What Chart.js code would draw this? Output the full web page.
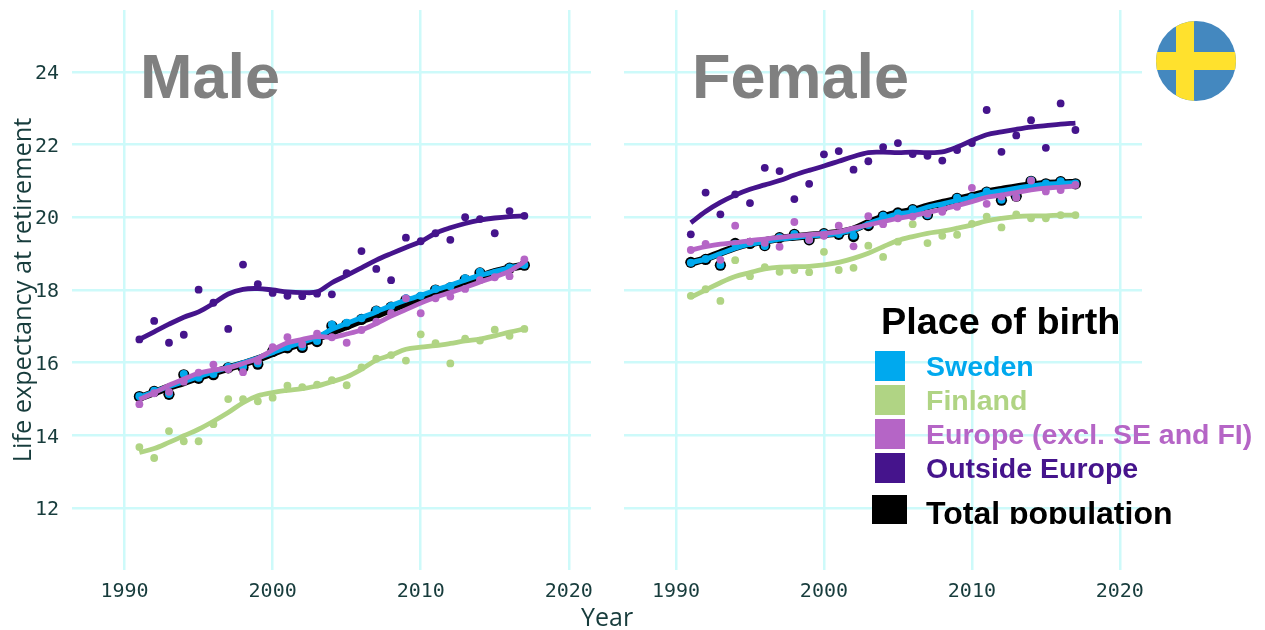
<!DOCTYPE html>
<html>
<head>
<meta charset="utf-8">
<script src="https://cdn.jsdelivr.net/npm/chart.js@4"></script>
<style>
  html, body { margin: 0; padding: 0; background: #fff; }
  #page { position: relative; width: 1265px; height: 630px; overflow: hidden; }
  canvas { position: absolute; top: 0; }
  #male { left: 0; }
  #female { left: 605px; }
  .txt { position: absolute; font-family: "Liberation Sans", sans-serif; font-weight: bold; line-height: 1; white-space: nowrap; }
  .panel { font-size: 63px; color: #808080; top: 45px; }
  .swatch { position: absolute; }
  #yearLabel { position: absolute; left: 581px; top: 603px; font: 25px "Open Sans", sans-serif; color: #173c3c; line-height: 1.1; }
  #flag { position: absolute; left: 1156px; top: 21px; width: 80px; height: 80px; border-radius: 50%; overflow: hidden; background: #4488bf; }
  #flag div { position: absolute; background: #ffe12d; }
  #legendClip { position: absolute; left: 860px; top: 290px; width: 405px; height: 234px; overflow: hidden; }
</style>
</head>
<body>
<div id="page">
  <canvas id="male" width="605" height="630"></canvas>
  <canvas id="female" width="660" height="630"></canvas>
  <div class="txt panel" style="left:140px">Male</div>
  <div class="txt panel" style="left:692px">Female</div>
  <div id="yearLabel">Year</div>
  <div id="flag">
    <div style="left:20px;top:0;width:18px;height:80px"></div>
    <div style="left:0;top:31px;width:80px;height:18px"></div>
  </div>
  <div id="legendClip"></div>
</div>
<script>
const years = [1991, 1992, 1993, 1994, 1995, 1996, 1997, 1998, 1999, 2000, 2001, 2002, 2003, 2004, 2005, 2006, 2007, 2008, 2009, 2010, 2011, 2012, 2013, 2014, 2015, 2016, 2017];
const xTicks = [1990, 2000, 2010, 2020];
const yTicks = [12, 14, 16, 18, 20, 22, 24];

// male: yearly points and smoothed lines
const maleSwedenPts = [15.08, 15.23, 15.14, 15.69, 15.59, 15.69, 15.89, 15.89, 15.98, 16.33, 16.43, 16.44, 16.60, 17.05, 17.10, 17.22, 17.45, 17.56, 17.77, 17.84, 18.03, 18.10, 18.32, 18.50, 18.46, 18.62, 18.69];
const maleSwedenLine = [15.05, 15.20, 15.35, 15.48, 15.62, 15.75, 15.87, 16.00, 16.13, 16.28, 16.43, 16.56, 16.70, 16.92, 17.08, 17.24, 17.40, 17.57, 17.72, 17.85, 18.00, 18.13, 18.27, 18.40, 18.51, 18.61, 18.70];
const maleTotalPts = [15.07, 15.21, 15.13, 15.67, 15.57, 15.67, 15.86, 15.87, 15.96, 16.31, 16.41, 16.42, 16.58, 17.01, 17.05, 17.19, 17.42, 17.53, 17.72, 17.79, 18.00, 18.06, 18.28, 18.47, 18.44, 18.60, 18.68];
const maleTotalLine = [15.03, 15.18, 15.33, 15.46, 15.60, 15.73, 15.85, 15.97, 16.10, 16.26, 16.41, 16.54, 16.67, 16.84, 17.00, 17.16, 17.30, 17.47, 17.62, 17.76, 17.93, 18.08, 18.22, 18.36, 18.50, 18.60, 18.68];
const maleFinlandPts = [13.68, 13.38, 14.12, 13.84, 13.84, 14.31, 15.00, 15.00, 14.94, 15.04, 15.37, 15.33, 15.40, 15.52, 15.38, 15.87, 16.11, 16.21, 16.06, 16.78, 16.54, 15.98, 16.66, 16.61, 16.91, 16.74, 16.93];
const maleFinlandLine = [13.53, 13.64, 13.81, 13.99, 14.17, 14.39, 14.63, 14.90, 15.09, 15.18, 15.24, 15.29, 15.36, 15.48, 15.61, 15.82, 16.07, 16.21, 16.37, 16.43, 16.47, 16.53, 16.60, 16.65, 16.74, 16.84, 16.93];
const maleEuropePts = [14.86, 15.16, 15.20, 15.48, 15.73, 15.95, 15.82, 15.74, 16.05, 16.43, 16.70, 16.51, 16.80, 16.70, 16.55, 16.90, 17.13, 17.36, 17.77, 17.36, 17.77, 17.82, 18.03, 18.27, 18.35, 18.38, 18.84];
const maleEuropeLine = [14.99, 15.17, 15.38, 15.55, 15.71, 15.80, 15.86, 15.98, 16.12, 16.35, 16.55, 16.64, 16.72, 16.70, 16.79, 16.90, 17.08, 17.28, 17.46, 17.64, 17.80, 17.93, 18.07, 18.22, 18.36, 18.52, 18.78];
const maleOutsidePts = [16.64, 17.15, 16.55, 16.77, 18.01, 17.65, 16.93, 18.70, 18.16, 17.92, 17.84, 17.83, 17.90, 17.88, 18.46, 19.07, 18.58, 18.27, 19.44, 19.34, 19.56, 19.38, 20.00, 19.95, 19.56, 20.17, 20.04];
const maleOutsideLine = [16.64, 16.85, 17.06, 17.25, 17.40, 17.63, 17.89, 18.02, 18.04, 18.00, 17.95, 17.93, 17.95, 18.20, 18.40, 18.61, 18.82, 19.00, 19.17, 19.33, 19.56, 19.71, 19.83, 19.92, 19.98, 20.02, 20.04];

// female
const femaleSwedenPts = [18.75, 18.85, 18.69, 19.27, 19.29, 19.21, 19.45, 19.54, 19.38, 19.56, 19.54, 19.49, 19.79, 20.04, 20.11, 20.22, 20.06, 20.29, 20.54, 20.55, 20.71, 20.48, 20.57, 21.01, 20.93, 20.99, 20.93];
const femaleSwedenLine = [18.75, 18.85, 19.00, 19.15, 19.26, 19.33, 19.40, 19.44, 19.49, 19.51, 19.56, 19.65, 19.83, 19.97, 20.09, 20.15, 20.28, 20.37, 20.46, 20.55, 20.66, 20.73, 20.80, 20.86, 20.91, 20.93, 20.95];
const femaleTotalPts = [18.76, 18.84, 18.68, 19.28, 19.28, 19.22, 19.44, 19.53, 19.38, 19.55, 19.53, 19.47, 19.77, 20.03, 20.12, 20.21, 20.07, 20.27, 20.52, 20.54, 20.69, 20.47, 20.58, 20.99, 20.92, 20.98, 20.92];
const femaleTotalLine = [18.74, 18.86, 19.02, 19.17, 19.28, 19.35, 19.42, 19.46, 19.50, 19.53, 19.58, 19.67, 19.85, 20.00, 20.11, 20.18, 20.30, 20.40, 20.49, 20.58, 20.69, 20.76, 20.83, 20.88, 20.92, 20.94, 20.95];
const femaleFinlandPts = [17.84, 18.02, 17.70, 18.82, 18.38, 18.63, 18.50, 18.55, 18.49, 19.05, 18.55, 18.61, 19.22, 18.91, 19.33, 19.81, 19.29, 19.49, 19.52, 19.82, 20.02, 19.72, 20.08, 19.97, 19.97, 20.06, 20.06];
const femaleFinlandLine = [17.80, 18.00, 18.20, 18.37, 18.48, 18.58, 18.63, 18.64, 18.65, 18.69, 18.76, 18.87, 19.01, 19.19, 19.36, 19.47, 19.56, 19.62, 19.70, 19.79, 19.90, 19.97, 20.02, 20.04, 20.04, 20.06, 20.06];
const femaleEuropePts = [19.10, 19.27, 18.83, 19.77, 19.33, 19.30, 19.19, 19.87, 19.38, 19.49, 19.77, 19.20, 20.03, 19.81, 19.97, 20.02, 20.10, 20.15, 20.29, 20.81, 20.37, 20.57, 20.54, 21.01, 20.71, 20.75, 20.89];
const femaleEuropeLine = [19.10, 19.19, 19.26, 19.30, 19.36, 19.40, 19.45, 19.49, 19.52, 19.56, 19.60, 19.70, 19.79, 19.88, 19.97, 20.04, 20.13, 20.22, 20.32, 20.43, 20.55, 20.61, 20.68, 20.75, 20.80, 20.83, 20.86];
const femaleOutsidePts = [19.53, 20.68, 20.08, 20.63, 20.39, 21.36, 21.27, 20.50, 20.92, 21.73, 21.82, 21.31, 21.54, 21.93, 22.04, 21.74, 21.69, 21.56, 21.85, 22.04, 22.95, 21.80, 22.25, 22.67, 21.91, 23.13, 22.40];
const femaleOutsideLine = [19.85, 20.16, 20.41, 20.61, 20.77, 20.89, 21.01, 21.16, 21.29, 21.41, 21.54, 21.67, 21.78, 21.79, 21.78, 21.79, 21.78, 21.80, 21.93, 22.11, 22.27, 22.35, 22.42, 22.48, 22.52, 22.56, 22.59];

const BLUE = '#00a9ee', GREEN = '#b0d484', PINK = '#b565c6', NAVY = '#45148c';
const GRID = '#cdfafa', TICK = '#173c3c';
const tickFont = { family: '"DejaVu Sans Mono", monospace', size: 20 };

function pairs(vals) {
  return vals.map((v, i) => ({ x: years[i], y: v }));
}
function pts(vals, color, r) {
  return { data: pairs(vals), showLine: false, pointRadius: r, pointBackgroundColor: color, pointBorderWidth: 0 };
}
function line(vals, color, w) {
  return { data: pairs(vals), borderColor: color, borderWidth: w, pointRadius: 0, tension: 0.35, borderCapStyle: 'butt', fill: false };
}

function makeChart(id, s, isMale) {
  // painted bottom to top, chart.js paints index 0 last
  const layers = [
    pts(s.totalPts, '#000', 5.6), line(s.totalLine, '#000', 7.5),
    pts(s.swedenPts, BLUE, 4), line(s.swedenLine, BLUE, 5),
    pts(s.finlandPts, GREEN, 3.9), line(s.finlandLine, GREEN, 4.8),
    pts(s.europePts, PINK, 3.9), line(s.europeLine, PINK, 4.8),
    pts(s.outsidePts, NAVY, 3.9), line(s.outsideLine, NAVY, 4.8),
  ].reverse();
  new Chart(document.getElementById(id), {
    type: 'line',
    data: { datasets: layers },
    options: {
      responsive: false,
      animation: false,
      layout: { padding: { top: 10, left: isMale ? 0 : 18.5, right: isMale ? 14 : 123, bottom: 0 } },
      plugins: { legend: { display: false }, tooltip: { enabled: false } },
      scales: {
        x: {
          type: 'linear',
          min: 1986.45,
          max: 2021.5,
          afterBuildTicks: (sc) => { sc.ticks = xTicks.map((v) => ({ value: v })); },
          afterFit: (sc) => { sc.height = 60; sc.paddingLeft = 0; sc.paddingRight = 0; },
          grid: { color: GRID, lineWidth: 2.5, drawTicks: false },
          border: { display: false },
          ticks: { autoSkip: false, maxRotation: 0, padding: 10, color: TICK, font: tickFont, callback: (v) => String(v) },
        },
        y: {
          display: true,
          min: 10.3,
          max: 25.7,
          afterBuildTicks: (sc) => { sc.ticks = yTicks.map((v) => ({ value: v })); },
          afterFit: (sc) => { sc.width = isMale ? 72 : 0; sc.paddingTop = 0; sc.paddingBottom = 0; },
          grid: { color: GRID, lineWidth: 2.5, drawTicks: false },
          border: { display: false },
          ticks: { display: isMale, autoSkip: false, padding: 13, labelOffset: 2, color: TICK, font: tickFont, callback: (v) => String(v) },
          title: { display: isMale, text: 'Life expectancy at retirement', color: TICK, padding: { top: 9, bottom: 0 }, font: { family: '"Open Sans", sans-serif', size: 25.3 } },
        },
      },
    },
  });
}

makeChart('male', {
  swedenPts: maleSwedenPts, swedenLine: maleSwedenLine, totalPts: maleTotalPts, totalLine: maleTotalLine,
  finlandPts: maleFinlandPts, finlandLine: maleFinlandLine, europePts: maleEuropePts, europeLine: maleEuropeLine,
  outsidePts: maleOutsidePts, outsideLine: maleOutsideLine,
}, true);
makeChart('female', {
  swedenPts: femaleSwedenPts, swedenLine: femaleSwedenLine, totalPts: femaleTotalPts, totalLine: femaleTotalLine,
  finlandPts: femaleFinlandPts, finlandLine: femaleFinlandLine, europePts: femaleEuropePts, europeLine: femaleEuropeLine,
  outsidePts: femaleOutsidePts, outsideLine: femaleOutsideLine,
}, false);

// legend, offsets are relative to the clip box at 860,290
const legendNames = ['Sweden', 'Finland', 'Europe (excl. SE and FI)', 'Outside Europe'];
const legendColors = [BLUE, GREEN, PINK, NAVY];
const clip = document.getElementById('legendClip');
function addText(str, left, top, size, color) {
  const d = document.createElement('div');
  d.className = 'txt';
  d.textContent = str;
  d.style.cssText = `left:${left}px;top:${top}px;font-size:${size}px;color:${color}`;
  clip.appendChild(d);
}
function addBox(left, top, w, h, color) {
  const d = document.createElement('div');
  d.className = 'swatch';
  d.style.cssText = `left:${left}px;top:${top}px;width:${w}px;height:${h}px;background:${color}`;
  clip.appendChild(d);
}
addText('Place of birth', 21, 13.3, 37.8, '#000');
legendNames.forEach((name, i) => {
  addBox(15, 61 + i * 33.9, 30, 30, legendColors[i]);
  addText(name, 66, 62 + i * 33.9, 28.5, legendColors[i]);
});
addBox(12, 205, 35, 29, '#000');
addText('Total population', 66, 207, 32, '#000');
</script>
</body>
</html>
